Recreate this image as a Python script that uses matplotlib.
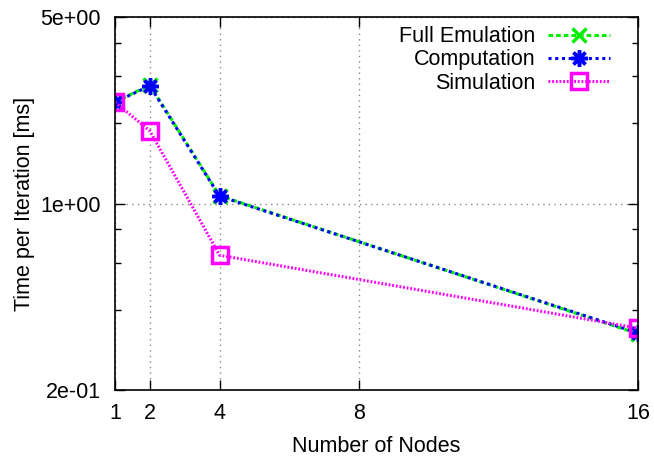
import matplotlib
matplotlib.use('Agg')
import matplotlib.pyplot as plt
from matplotlib.ticker import FixedLocator, NullFormatter

plt.rcParams['font.family'] = ['Liberation Sans', 'DejaVu Sans']

# data
nodes = [1, 2, 4, 16]
full_emulation = [2.40, 2.78, 1.07, 0.325]
computation = [2.40, 2.76, 1.065, 0.327]
simulation = [2.40, 1.87, 0.64, 0.341]

x_ticks = [1, 2, 4, 8, 16]
y_ticks = [0.2, 1.0, 5.0]
y_tick_labels = ['2e-01', '1e+00', '5e+00']
y_minor = [0.4, 0.6, 0.8, 2, 3, 4]

fs = 15.5

fig = plt.figure(figsize=(6.54, 4.57), dpi=100)
ax = fig.add_axes([0.1758, 0.1466, 0.7997, 0.8162])

ax.plot(nodes, full_emulation, color='#00ee00', linestyle=(0, (1.5, 1)), linewidth=2.2,
        marker='x', markersize=10, markeredgewidth=2.5, label='Full Emulation')
ax.plot(nodes, computation, color='#0000ff', linestyle=(0, (1, 1.2)), linewidth=2.2,
        marker=(8, 2, 0), markersize=12, markeredgewidth=2.5, label='Computation')
ax.plot(nodes, simulation, color='#ff00ff', linestyle=(0, (0.6, 0.6)), linewidth=2.2,
        marker='s', markersize=11, markerfacecolor='none', markeredgewidth=2.5,
        label='Simulation')

ax.set_yscale('log')
ax.set_xlim(1, 16)
ax.set_ylim(0.2, 5)

ax.xaxis.set_major_locator(FixedLocator(x_ticks))
ax.set_xticklabels([str(v) for v in x_ticks])
ax.yaxis.set_major_locator(FixedLocator(y_ticks))
ax.set_yticklabels(y_tick_labels)
ax.yaxis.set_minor_locator(FixedLocator(y_minor))
ax.yaxis.set_minor_formatter(NullFormatter())

ax.tick_params(which='both', direction='in', top=True, right=True, labelsize=fs,
               width=1, color='black')
ax.tick_params(which='major', length=7)
ax.tick_params(axis='y', which='major', pad=10)
ax.tick_params(axis='x', which='major', pad=9)
ax.tick_params(which='minor', length=4)

ax.grid(True, which='major', color='#888888', linestyle=(0, (1, 3)), linewidth=1)
for s in ax.spines.values():
    s.set_linewidth(1.2)

ax.set_xlabel('Number of Nodes', fontsize=fs, labelpad=9)
ax.set_ylabel('Time per Iteration [ms]', fontsize=fs, labelpad=4)

ax.legend(loc='upper right', bbox_to_anchor=(0.9465, 0.975), frameon=False,
          markerfirst=False, fontsize=fs, handlelength=2.9, handletextpad=0.55,
          labelspacing=0.1, borderaxespad=0, borderpad=0)

fig.savefig('out.png', dpi=100)
